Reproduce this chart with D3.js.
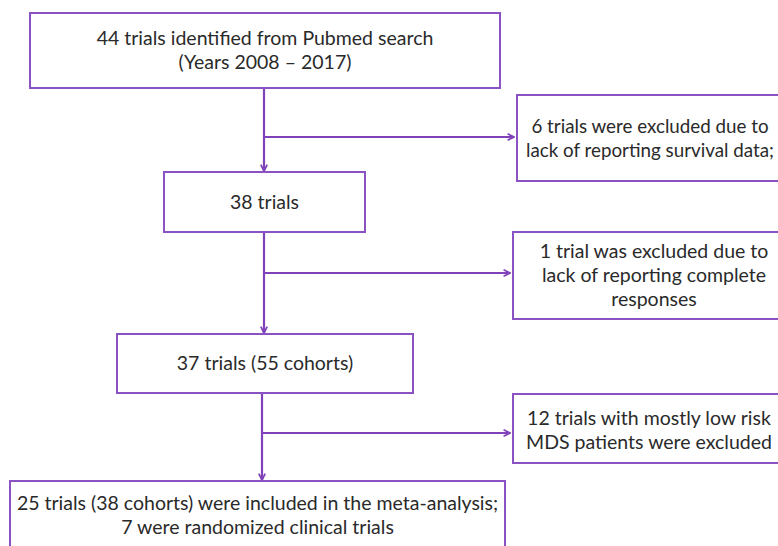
<!DOCTYPE html>
<html>
<head>
<meta charset="utf-8">
<script src="https://cdn.jsdelivr.net/npm/d3@7"></script>
<style>
  body { margin: 0; background: #fff; }
  svg text { font-family: Lato, "Open Sans", sans-serif; fill: #2a2a2a; }
</style>
</head>
<body>
<div id="chart-area"></div>
<script>
// flow steps (main column) and exclusion notes
var steps = [
    ["44 trials identified from Pubmed search", "(Years 2008 \u2013 2017)"],
    ["38 trials"],
    ["37 trials (55 cohorts)"],
    ["25 trials (38 cohorts) were included in the meta-analysis;", "7 were randomized clinical trials"]
];
var exclusions = [
    ["6 trials were excluded due to", "lack of reporting survival data;"],
    ["1 trial was excluded due to", "lack of reporting complete", "responses"],
    ["12 trials with mostly low risk", "MDS patients were excluded"]
];

var W = 778, H = 546;
var purple = "#7f42b8";
var boxPurple = "#8a52c2";

var svg = d3.select("#chart-area").append("svg")
    .attr("width", W)
    .attr("height", H);

svg.append("defs").append("marker")
    .attr("id", "arrow")
    .attr("viewBox", "0 0 10 10")
    .attr("refX", 9).attr("refY", 5)
    .attr("markerWidth", 8).attr("markerHeight", 8)
    .attr("markerUnits", "userSpaceOnUse")
    .attr("orient", "auto")
    .append("path")
    .attr("d", "M1,1 L9,5 L1,9")
    .attr("fill", "none")
    .attr("stroke", purple)
    .attr("stroke-width", 2.2);

// layout boxes
var stepBoxes = [
    {x: 30, y: 13, w: 470, h: 75},
    {x: 164, y: 172, w: 201, h: 60},
    {x: 117, y: 334, w: 296, h: 59},
    {x: 10, y: 481, w: 495, h: 80, textDy: -6}
];
var exBoxes = [
    {x: 517, y: 95, w: 266, h: 86},
    {x: 513, y: 232, w: 282, h: 87},
    {x: 513, y: 394, w: 272, h: 69, textDy: 2}
];
var spineX = [264, 264, 262];
var branchY = [137, 273, 433];

var fontSize = 19.5, lineH = 24;

function drawBox(g, b, lines) {
    g.append("rect")
        .attr("x", b.x).attr("y", b.y)
        .attr("width", b.w).attr("height", b.h)
        .attr("fill", "#fff")
        .attr("stroke", boxPurple)
        .attr("stroke-width", 2);
    var cy = b.y + b.h / 2 - (lines.length - 1) * lineH / 2;
    var offs = b.textDy || 0;
    g.selectAll("text.l")
        .data(lines)
        .enter()
        .append("text")
        .attr("x", b.x + b.w / 2)
        .attr("y", (d, i) => cy + i * lineH + offs)
        .attr("dy", "0.35em")
        .attr("text-anchor", "middle")
        .style("font-size", (b.fs || fontSize) + "px")
        .text(d => d);
}

// connectors
spineX.forEach((x, i) => {
    var top = stepBoxes[i].y + stepBoxes[i].h;
    var bot = stepBoxes[i + 1].y;
    svg.append("line")
        .attr("x1", x).attr("y1", top)
        .attr("x2", x).attr("y2", bot - 1)
        .attr("stroke", purple).attr("stroke-width", 2.2)
        .attr("marker-end", "url(#arrow)");
    svg.append("line")
        .attr("x1", x).attr("y1", branchY[i])
        .attr("x2", exBoxes[i].x - 3).attr("y2", branchY[i])
        .attr("stroke", purple).attr("stroke-width", 2.2)
        .attr("marker-end", "url(#arrow)");
});

exBoxes[0].fs = 18.8;

steps.forEach((lines, i) => drawBox(svg.append("g"), stepBoxes[i], lines));
exclusions.forEach((lines, i) => drawBox(svg.append("g"), exBoxes[i], lines));
</script>
</body>
</html>
